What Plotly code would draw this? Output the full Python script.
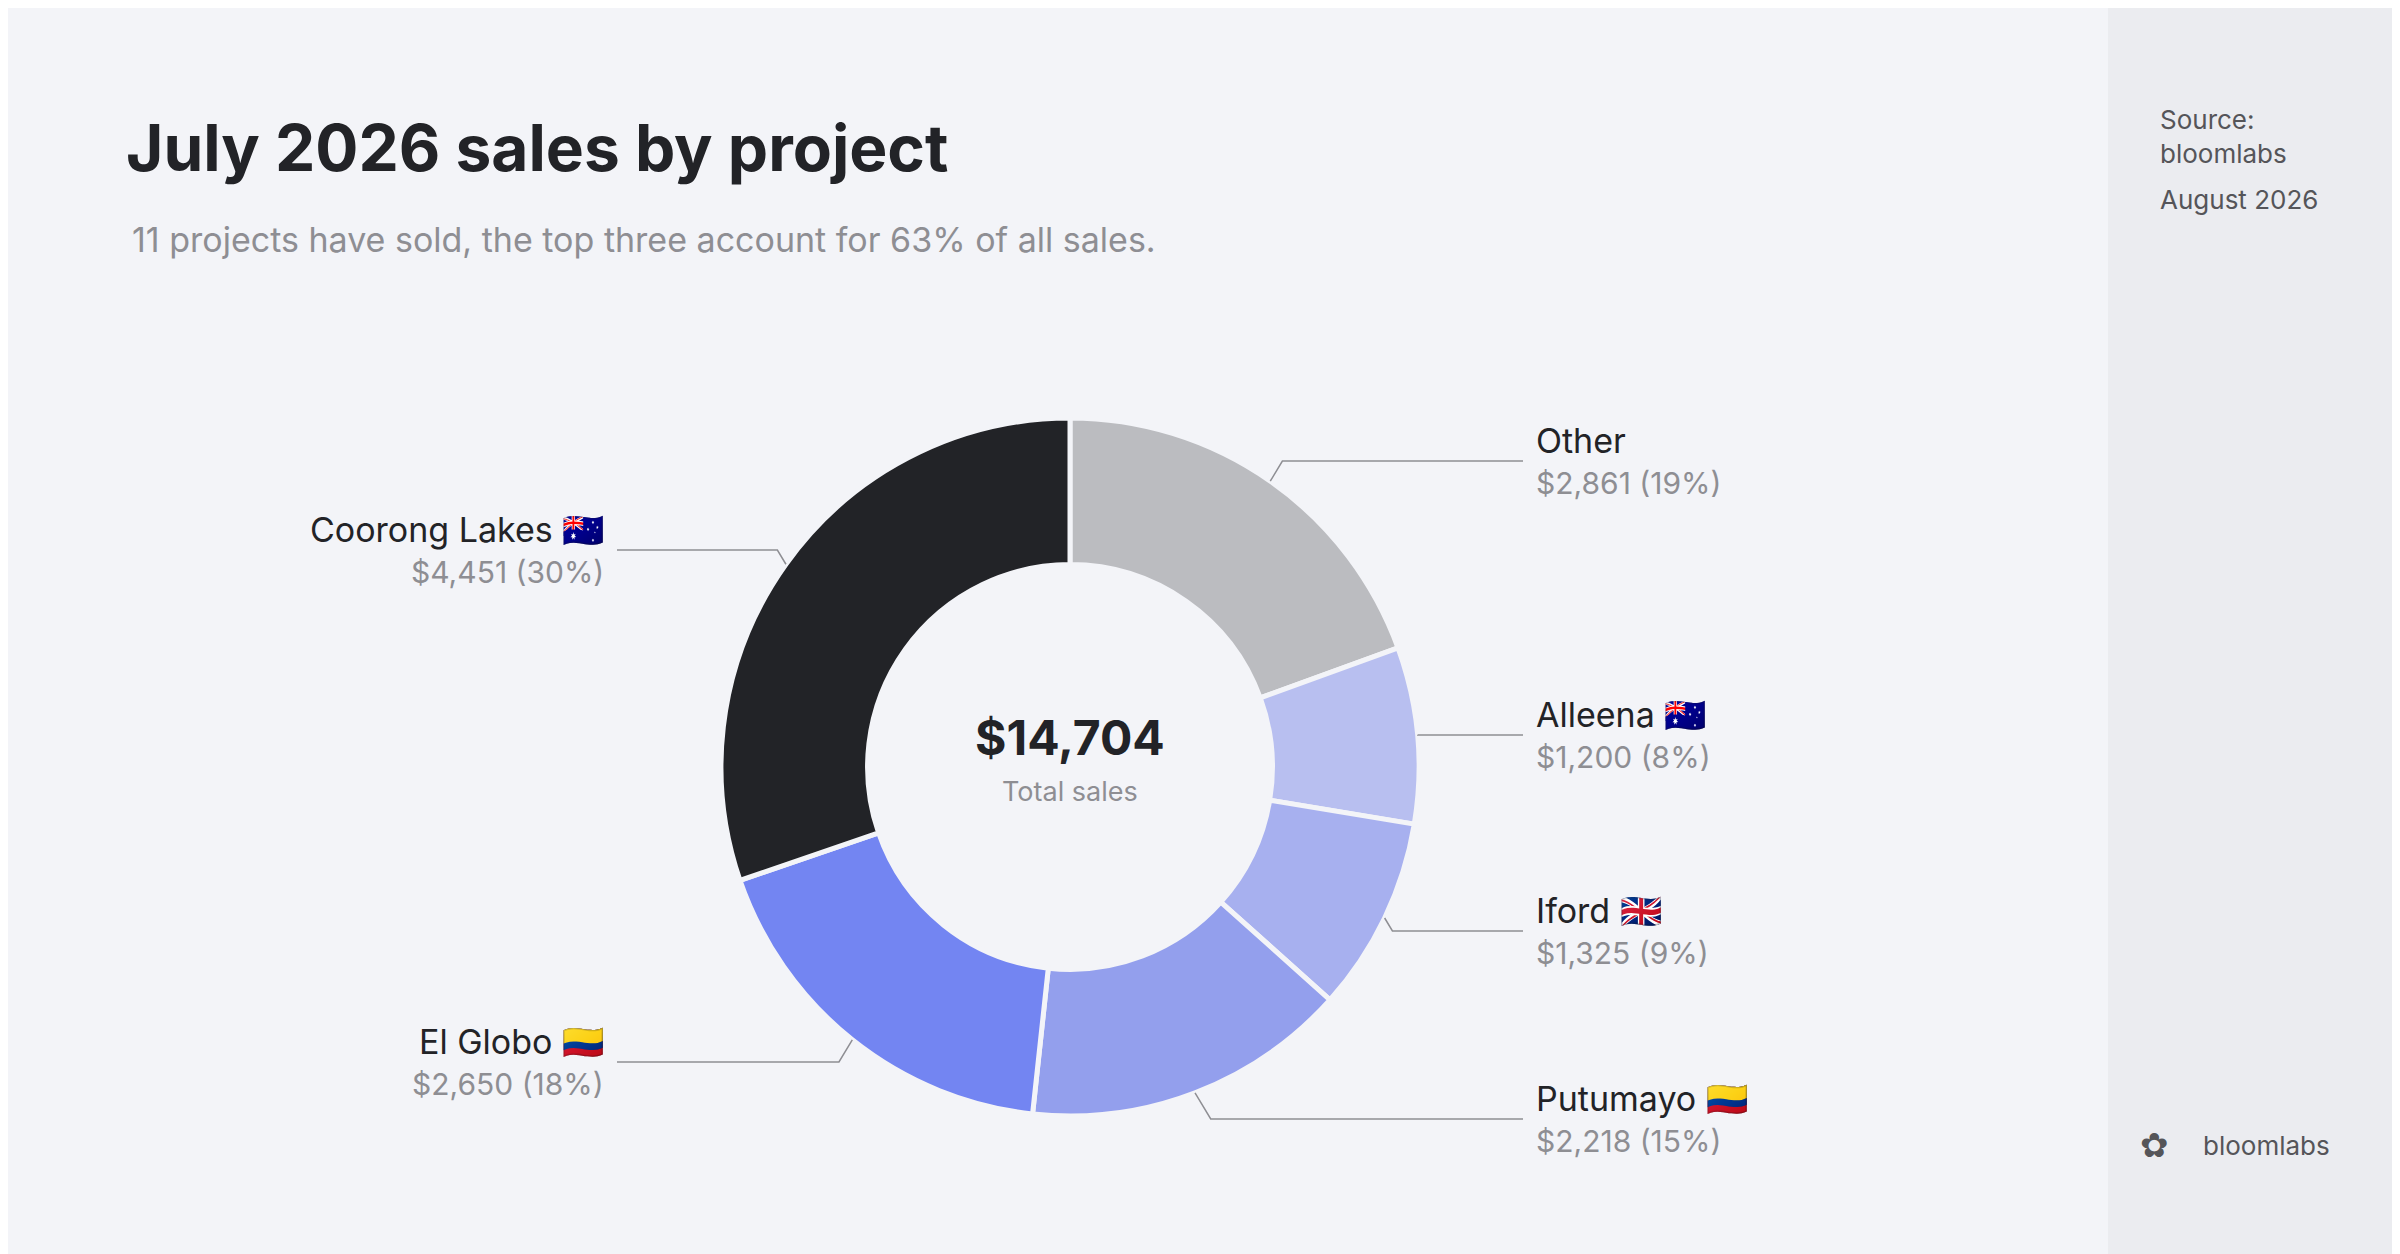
import math
import plotly.graph_objects as go

projects = ["Other", "Alleena", "Iford", "Putumayo", "El Globo", "Coorong Lakes"]
flags = ["", " 🇦🇺", " 🇬🇧", " 🇨🇴", " 🇨🇴", " 🇦🇺"]
sales = [2861, 1200, 1325, 2218, 2650, 4451]
total_sales = 14704
colors = ["#BBBCC0", "#B8BFF0", "#A7B0EF", "#939FED", "#7385F2", "#222327"]
# label line y (px from top) and side
label_y = [453, 727, 923, 1111, 1054, 542]
label_side = [1, 1, 1, 1, -1, -1]

W, H = 2400, 1254
CX, CY, R = 1062, 759, 349
BG = "#F3F4F8"

def px(x): return x / W
def py(y): return 1 - y / H

fig = go.Figure(go.Pie(
    values=sales, labels=projects, sort=False, direction="clockwise", rotation=0,
    hole=0.58, marker=dict(colors=colors, line=dict(color=BG, width=5)),
    textinfo="none", hoverinfo="label+value",
    domain=dict(x=[px(CX - R), px(CX + R)], y=[py(CY + R), py(CY - R)]),
    showlegend=False))

shapes = [dict(type="rect", xref="paper", yref="paper", x0=px(2100), x1=1, y0=0, y1=1,
               fillcolor="#EBECF0", line_width=0, layer="below")]
annotations = []
tot = sum(sales)
cum = 0
for name, fl, v, ly, side in zip(projects, flags, sales, label_y, label_side):
    mid = (cum + v / 2) / tot * 2 * math.pi
    cum += v
    sx = CX + R * math.sin(mid)
    sy = CY - R * math.cos(mid)
    dy = ly - sy
    ex = sx + side * abs(dy) * 0.6
    lx_end = 1515 if side > 0 else 609
    shapes.append(dict(type="path", xref="paper", yref="paper",
                       path=f"M {px(sx)} {py(sy)} L {px(ex)} {py(ly)} L {px(lx_end)} {py(ly)}",
                       line=dict(color="#8E8E93", width=1.5)))
    tx = 1526 if side > 0 else 598
    anchor = "left" if side > 0 else "right"
    annotations.append(dict(x=px(tx), y=py(ly - 21), xref="paper", yref="paper", text=name + fl,
                            showarrow=False, xanchor=anchor, yanchor="middle",
                            font=dict(size=34, color="#222327", family="Inter")))
    annotations.append(dict(x=px(tx), y=py(ly + 22), xref="paper", yref="paper",
                            text=f"${v:,} ({round(v / total_sales * 100)}%)",
                            showarrow=False, xanchor=anchor, yanchor="middle",
                            font=dict(size=30, color="#8E8E93", family="Inter")))

annotations += [
    dict(x=px(CX), y=py(CY - 30), xref="paper", yref="paper", text=f"<b>${total_sales:,}</b>",
         showarrow=False, yanchor="middle", font=dict(size=48, color="#222327", family="Inter")),
    dict(x=px(CX), y=py(CY + 24), xref="paper", yref="paper", text="Total sales",
         showarrow=False, yanchor="middle", font=dict(size=27, color="#8E8E93", family="Inter")),
    dict(x=px(116), y=py(140), xref="paper", yref="paper", text="<b>July 2026 sales by project</b>",
         showarrow=False, xanchor="left", yanchor="middle", font=dict(size=64, color="#222327", family="Inter")),
    dict(x=px(122), y=py(231), xref="paper", yref="paper",
         text="11 projects have sold, the top three account for 63% of all sales.",
         showarrow=False, xanchor="left", yanchor="middle", font=dict(size=34, color="#8E8E93", family="Inter")),
    dict(x=px(2150), y=py(128), xref="paper", yref="paper", text="Source:<br>bloomlabs",
         showarrow=False, xanchor="left", yanchor="middle", align="left", font=dict(size=26, color="#555559", family="Inter")),
    dict(x=px(2150), y=py(191), xref="paper", yref="paper", text="August 2026",
         showarrow=False, xanchor="left", yanchor="middle", font=dict(size=26, color="#555559", family="Inter")),
    dict(x=px(2163), y=py(1137), xref="paper", yref="paper", text="✿",
         showarrow=False, yanchor="middle", font=dict(size=34, color="#555559", family="DejaVu Sans")),
    dict(x=px(2193), y=py(1137), xref="paper", yref="paper", text="bloomlabs",
         showarrow=False, xanchor="left", yanchor="middle", font=dict(size=26, color="#555559", family="Inter")),
]

fig.update_layout(width=W, height=H, margin=dict(l=0, r=0, t=0, b=0),
                  paper_bgcolor=BG, plot_bgcolor=BG, shapes=shapes, annotations=annotations)
fig.write_html("out.html")
